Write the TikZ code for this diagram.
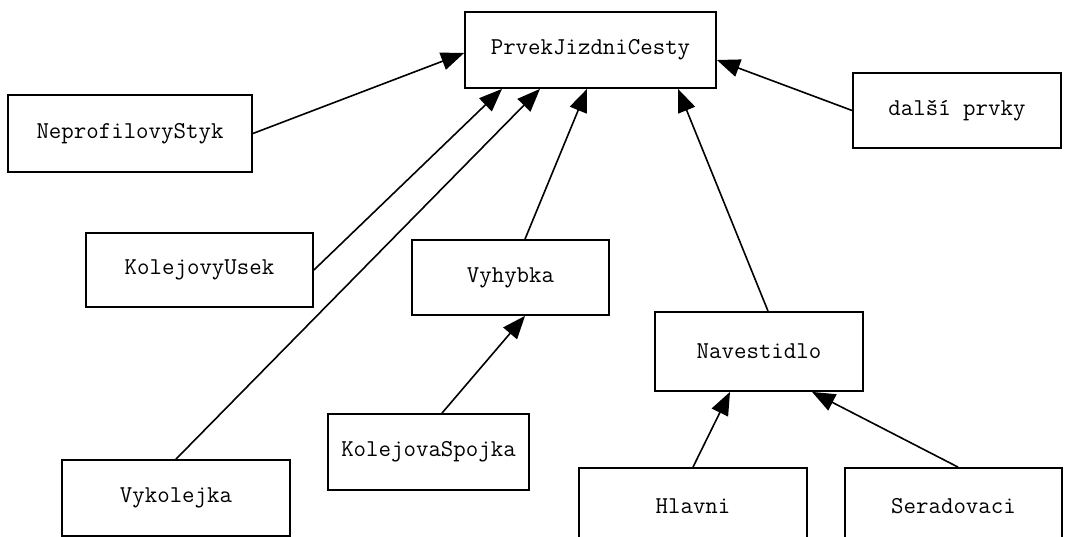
\documentclass[tikz,border=0pt]{standalone}
\usepackage{fontspec}
\usetikzlibrary{arrows.meta,calc}
\begin{document}
\begin{tikzpicture}[x=1pt,y=-1pt,
  cls/.style={draw, line width=1.8pt, fill=white, inner sep=0pt,
    font=\ttfamily\fontsize{24.2}{27}\selectfont},
  inherit/.style={line width=1.6pt, -{Triangle[length=23pt,width=18pt]}}]
\useasboundingbox (0,0) rectangle (1069,537);
\clip (0,0) rectangle (1069,537);

% class boxes
\node[cls, minimum width=251pt, minimum height=76pt] (p) at (590.5,50) {PrvekJizdniCesty};
\node[cls, minimum width=244pt, minimum height=77pt] (nps) at (130,133.5) {NeprofilovyStyk};
\node[cls, minimum width=208pt, minimum height=75pt] (dalsi) at (957,110.5) {další prvky};
\node[cls, minimum width=227pt, minimum height=74pt] (ku) at (199.5,270) {KolejovyUsek};
\node[cls, minimum width=197pt, minimum height=75pt] (vy) at (510.5,277.5) {Vyhybka};
\node[cls, minimum width=208pt, minimum height=79pt] (nav) at (759,351.5) {Navestidlo};
\node[cls, minimum width=201pt, minimum height=76pt] (ks) at (428.5,452) {KolejovaSpojka};
\node[cls, minimum width=228pt, minimum height=76pt] (vyk) at (176,498) {Vykolejka};
\node[cls, minimum width=228pt, minimum height=76pt] (hl) at (693,506) {Hlavni};
\node[cls, minimum width=217pt, minimum height=76pt] (ser) at (953.5,506) {Seradovaci};

% generalisation arrows
\draw[inherit] (nps.east) -- ($(p.west)+(0,3)$);
\draw[inherit] (ku.east) -- ($(p.south)+(-88.5,0)$);
\draw[inherit] (vyk.north) -- ($(p.south)+(-50.5,0)$);
\draw[inherit] ($(vy.north)+(14.5,0)$) -- ($(p.south)+(-3.5,0)$);
\draw[inherit] ($(nav.north)+(9,0)$) -- ($(p.south)+(87.5,0)$);
\draw[inherit] (dalsi.west) -- ($(p.east)+(0,10)$);
\draw[inherit] ($(ks.north)+(13.5,0)$) -- ($(vy.south)+(14.5,0)$);
\draw[inherit] (hl.north) -- ($(nav.south)+(-29,0)$);
\draw[inherit] ($(ser.north)+(4.5,0)$) -- ($(nav.south)+(53,0)$);
\end{tikzpicture}
\end{document}
